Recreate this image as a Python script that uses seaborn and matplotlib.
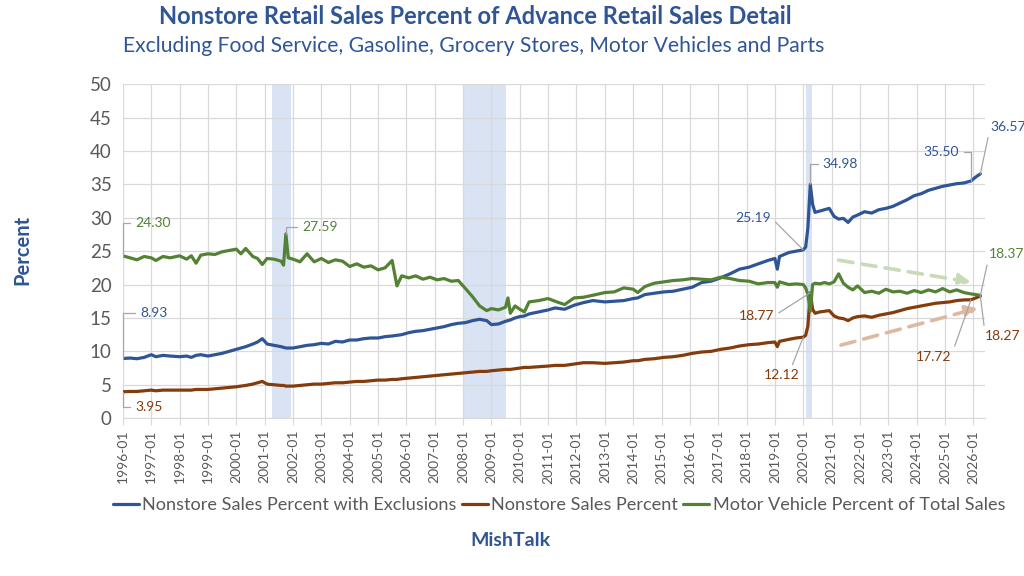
import matplotlib
matplotlib.use("Agg")
import matplotlib.pyplot as plt
import matplotlib.dates as mdates
import pandas as pd
import seaborn as sns

# monthly readings (only the months)
months = [
    "1996-01", "1996-04", "1996-07", "1996-10",
    "1997-01", "1997-03", "1997-06", "1997-09",
    "1998-01", "1998-04", "1998-06", "1998-08", "1998-10",
    "1999-01", "1999-04", "1999-07", "1999-10",
    "2000-01", "2000-03", "2000-05", "2000-08", "2000-10", "2000-12",
    "2001-02", "2001-05", "2001-08", "2001-09", "2001-10", "2001-11",
    "2002-01", "2002-04", "2002-07", "2002-10",
    "2003-01", "2003-04", "2003-07", "2003-10",
    "2004-01", "2004-04", "2004-07", "2004-10",
    "2005-01", "2005-04", "2005-07", "2005-09", "2005-11",
    "2006-02", "2006-05", "2006-08", "2006-11",
    "2007-02", "2007-05", "2007-08", "2007-11",
    "2008-02", "2008-05", "2008-08", "2008-11",
    "2009-01", "2009-04", "2009-07", "2009-08", "2009-09", "2009-11",
    "2010-01", "2010-03", "2010-05", "2010-09",
    "2011-01", "2011-04", "2011-08", "2011-12",
    "2012-04", "2012-08",
    "2013-01", "2013-05", "2013-09",
    "2014-01", "2014-03", "2014-06", "2014-10",
    "2015-02", "2015-06", "2015-10",
    "2016-02", "2016-06", "2016-10",
    "2017-02", "2017-06", "2017-10",
    "2018-02", "2018-06", "2018-10",
    "2019-01", "2019-02", "2019-03", "2019-07", "2019-10",
    "2020-01", "2020-02", "2020-03", "2020-04", "2020-05", "2020-06", "2020-08", "2020-10", "2020-12",
    "2021-02", "2021-04", "2021-06", "2021-08", "2021-10", "2021-12",
    "2022-03", "2022-06", "2022-09", "2022-12",
    "2023-03", "2023-06", "2023-09", "2023-12",
    "2024-03", "2024-06", "2024-09", "2024-12",
    "2025-03", "2025-06", "2025-09", "2025-12",
    "2026-02", "2026-04",
]

nonstore_excl = [
    8.93, 9.0, 8.9, 9.1,
    9.5, 9.2, 9.4, 9.3,
    9.2, 9.3, 9.1, 9.4, 9.5,
    9.3, 9.5, 9.7, 10.0,
    10.3, 10.5, 10.7, 11.1, 11.4, 11.9,
    11.1, 10.9, 10.7, 10.6, 10.5, 10.5,
    10.5, 10.7, 10.9, 11.0,
    11.2, 11.1, 11.5, 11.4,
    11.7, 11.7, 11.9, 12.0,
    12.0, 12.2, 12.3, 12.4, 12.5,
    12.8, 13.0, 13.1, 13.3,
    13.5, 13.7, 14.0, 14.2,
    14.3, 14.6, 14.8, 14.6,
    14.0, 14.1, 14.5, 14.6, 14.7, 15.0,
    15.2, 15.3, 15.6, 15.9,
    16.2, 16.5, 16.3, 16.9,
    17.3, 17.6,
    17.4, 17.5, 17.6,
    17.9, 18.0, 18.5, 18.7,
    18.9, 19.0, 19.3,
    19.6, 20.3, 20.5,
    21.0, 21.6, 22.3,
    22.6, 23.1, 23.6,
    23.9, 22.3, 24.2, 24.8, 25.0,
    25.19, 25.6, 28.5, 34.98, 32.0, 30.8, 31.0, 31.2, 31.4,
    30.2, 29.8, 29.9, 29.3, 30.1, 30.4,
    30.9, 30.7, 31.2, 31.4,
    31.7, 32.2, 32.7, 33.3,
    33.6, 34.1, 34.4, 34.7,
    34.9, 35.1, 35.2, 35.50,
    36.1, 36.57,
]

nonstore = [
    3.95, 4.0, 4.0, 4.1,
    4.2, 4.1, 4.2, 4.2,
    4.2, 4.2, 4.2, 4.3, 4.3,
    4.3, 4.4, 4.5, 4.6,
    4.7, 4.8, 4.9, 5.1, 5.3, 5.5,
    5.1, 5.0, 4.9, 4.9, 4.8, 4.8,
    4.8, 4.9, 5.0, 5.1,
    5.1, 5.2, 5.3, 5.3,
    5.4, 5.5, 5.5, 5.6,
    5.7, 5.7, 5.8, 5.8, 5.9,
    6.0, 6.1, 6.2, 6.3,
    6.4, 6.5, 6.6, 6.7,
    6.8, 6.9, 7.0, 7.0,
    7.1, 7.2, 7.3, 7.3, 7.3, 7.4,
    7.5, 7.6, 7.6, 7.7,
    7.8, 7.9, 7.9, 8.1,
    8.3, 8.3,
    8.2, 8.3, 8.4,
    8.6, 8.6, 8.8, 8.9,
    9.1, 9.2, 9.4,
    9.7, 9.9, 10.0,
    10.3, 10.5, 10.8,
    11.0, 11.1, 11.3,
    11.4, 10.7, 11.5, 11.8, 12.0,
    12.12, 12.4, 13.8, 18.77, 16.3, 15.7, 15.9, 16.0, 16.1,
    15.3, 15.0, 14.9, 14.6, 15.0, 15.2,
    15.3, 15.1, 15.4, 15.6,
    15.8, 16.1, 16.4, 16.6,
    16.8, 17.0, 17.2, 17.3,
    17.4, 17.6, 17.7, 17.72,
    18.0, 18.27,
]

motor_vehicle = [
    24.30, 24.0, 23.7, 24.2,
    24.0, 23.6, 24.2, 24.0,
    24.3, 23.8, 24.3, 23.2, 24.4,
    24.6, 24.5, 24.9, 25.1,
    25.3, 24.6, 25.4, 24.2, 23.9, 23.0,
    23.9, 23.8, 23.5, 22.9, 27.59, 24.0,
    23.8, 23.4, 24.6, 23.4,
    23.9, 23.3, 23.7, 23.5,
    22.7, 23.1, 22.6, 22.8,
    22.2, 22.5, 23.6, 19.8, 21.3,
    21.0, 21.3, 20.8, 21.1,
    20.7, 20.9, 20.5, 20.6,
    19.4, 18.2, 16.8, 16.1,
    16.4, 16.2, 16.6, 18.0, 15.7, 16.8,
    16.3, 15.9, 17.4, 17.6,
    17.9, 17.5, 17.0, 18.0,
    18.1, 18.4,
    18.8, 18.9, 19.5,
    19.3, 18.8, 19.7, 20.2,
    20.4, 20.6, 20.7,
    20.9, 20.8, 20.7,
    21.1, 20.9, 20.6,
    20.5, 20.1, 20.3,
    20.3, 19.6, 20.4, 20.0, 20.1,
    20.0, 19.5, 18.5, 16.0, 20.0, 20.2, 20.1, 20.3, 20.1,
    20.4, 21.6, 20.2, 19.6, 19.2, 19.8,
    18.8, 19.0, 18.7, 19.3,
    18.9, 19.0, 18.7, 19.1,
    18.8, 19.2, 18.9, 19.4,
    18.9, 19.2, 18.8, 18.6,
    18.5, 18.37,
]

series_names = ["Nonstore Sales Percent with Exclusions",
                "Nonstore Sales Percent",
                "Motor Vehicle Percent of Total Sales"]
line_colors = ["#2F5597", "#843C0C", "#548235"]

recessions = [("2001-04-01", "2001-12-01"),
              ("2008-01-01", "2009-07-01"),
              ("2020-02-01", "2020-04-20")]

# (series, month, dx px, dy px, ha, corner-style leader)
point_labels = [
    (2, "1996-01", 12, 33, "left", True),
    (0, "1996-01", 17, 46, "left", True),
    (1, "1996-01", 12, -15, "left", True),
    (2, "2001-10", 16, 7, "left", True),
    (0, "2020-04", 12, 20, "left", True),
    (0, "2020-01", -32, 32, "right", False),
    (1, "2020-04", -36, -23, "right", False),
    (1, "2020-01", -22, -38, "center", False),
    (0, "2025-12", -12, 29, "right", True),
    (0, "2026-04", 10, 47, "left", False),
    (2, "2026-04", 9, 41, "left", False),
    (1, "2026-04", 5, -40, "left", False),
    (1, "2025-12", -20, -57, "right", False),
]

# dashed trend arrows: (start month, start value, end month, end value, colour)
trend_arrows = [
    ("2021-04", 23.65, "2025-12", 20.36, "#C7DBB8"),
    ("2021-05", 10.93, "2026-03", 16.47, "#DDB9A2"),
]

df = pd.DataFrame({
    "month": pd.to_datetime(months * 3),
    "value": nonstore_excl + nonstore + motor_vehicle,
    "series": [series_names[0]] * len(months) + [series_names[1]] * len(months)
              + [series_names[2]] * len(months),
})
series_data = [nonstore_excl, nonstore, motor_vehicle]

sns.set_style("white")
plt.rcParams["font.family"] = ["Lato", "DejaVu Sans"]

fig = plt.figure(figsize=(10.24, 5.76), dpi=100)
ax = fig.add_axes([0.120, 0.274, 0.842, 0.580])

for start, end in recessions:
    ax.axvspan(pd.Timestamp(start), pd.Timestamp(end), color="#DAE3F3", lw=0, zorder=0)

sns.lineplot(data=df, x="month", y="value", hue="series", hue_order=series_names,
             palette=line_colors, linewidth=2.3, ax=ax, zorder=3)

for x0, y0, x1, y1, c in trend_arrows:
    ax.annotate("", xy=(pd.Timestamp(x1), y1), xytext=(pd.Timestamp(x0), y0),
                arrowprops=dict(arrowstyle="-|>,head_length=0.7,head_width=0.35",
                                linestyle=(0, (4, 2.5)), lw=2.6, color=c,
                                shrinkA=0, shrinkB=0), zorder=2)

for s, m, dx, dy, ha, corner in point_labels:
    val = series_data[s][months.index(m)]
    if corner:
        conn = "angle,angleA=0,angleB=90,rad=0"
    else:
        conn = "arc3,rad=0"
    relx = {"left": 0.0, "right": 1.0, "center": 0.7}[ha]
    ax.annotate(f"{val:.2f}", xy=(pd.Timestamp(m), val), xytext=(dx, dy),
                textcoords="offset pixels", ha=ha, va="center", fontsize=10,
                color=line_colors[s], annotation_clip=False, zorder=5,
                arrowprops=dict(arrowstyle="-", color="#A6A6A6", lw=0.9,
                                connectionstyle=conn, relpos=(relx, 0.5),
                                shrinkA=1, shrinkB=0))

ax.set_xlim(pd.Timestamp("1996-01-01"), pd.Timestamp("2026-06-01"))
ax.set_ylim(0, 50)
ax.set_yticks(range(0, 51, 5))
ax.xaxis.set_major_locator(mdates.YearLocator(1, month=1))
ax.xaxis.set_major_formatter(mdates.DateFormatter("%Y-%m"))
ax.grid(True, color="#D9D9D9", lw=0.9)
ax.set_axisbelow(True)
for side in ["top", "right", "left"]:
    ax.spines[side].set_visible(False)
ax.spines["bottom"].set_color("#D9D9D9")
ax.tick_params(axis="x", rotation=90, labelsize=10, labelcolor="#595959",
               length=5, color="#D9D9D9", direction="out", bottom=True)
ax.tick_params(axis="y", labelsize=13.5, labelcolor="#595959", length=0, pad=8)
ax.set_xlabel("")
ax.set_ylabel("")

handles, labels = ax.get_legend_handles_labels()
ax.get_legend().remove()
fig.legend(handles, labels, loc="center", bbox_to_anchor=(0.546, 0.123), ncol=3,
           frameon=False, fontsize=13.1, handlelength=1.4, handletextpad=0.2,
           columnspacing=0.3, labelcolor="#595959")

fig.text(0.464, 0.972, "Nonstore Retail Sales Percent of Advance Retail Sales Detail",
         ha="center", va="center", fontsize=17, fontweight="bold", color="#2F5597")
fig.text(0.463, 0.921, "Excluding Food Service, Gasoline, Grocery Stores, Motor Vehicles and Parts",
         ha="center", va="center", fontsize=15.2, color="#2F5597")
fig.text(0.022, 0.566, "Percent", rotation=90, ha="center", va="center",
         fontsize=14.5, fontweight="bold", color="#2F5597")
fig.text(0.498, 0.062, "MishTalk", ha="center", va="center",
         fontsize=14, fontweight="bold", color="#2F5597")

plt.savefig("out.png", dpi=100)
